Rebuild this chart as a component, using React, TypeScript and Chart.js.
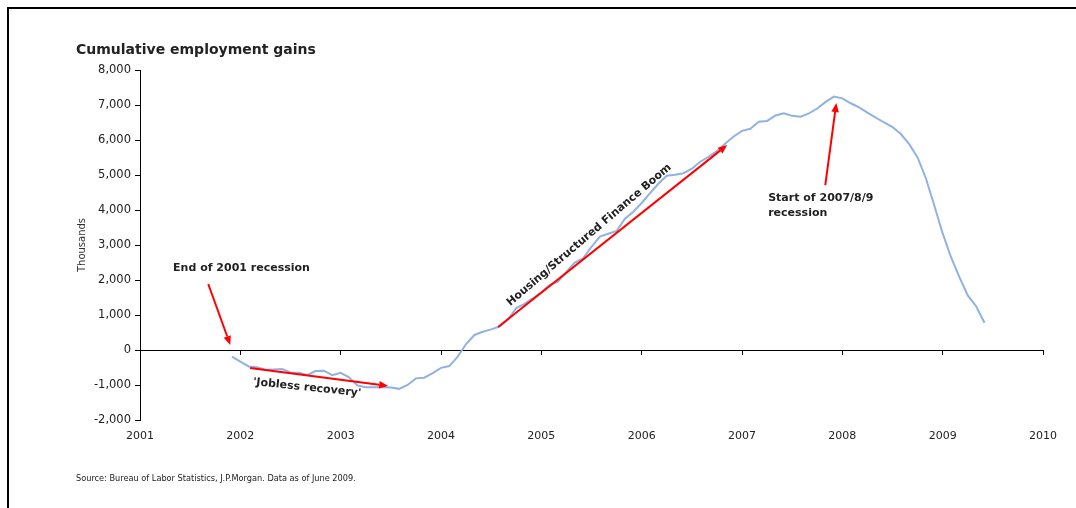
import React, { useEffect, useRef } from "react";
import { Chart, registerables } from "chart.js";

Chart.register(...registerables);

// ---- Data ----
const START_YEAR = 2001;
const START_MONTH = 12; // first observation: Dec 2001
// Cumulative employment gains (thousands), monthly Dec 2001 .. Jun 2009
const employmentGains = [
  -190, -330, -470, -490, -565, -555, -545, -640, -650, -710, -600, -590,
  -720, -650, -780, -1010, -1065, -1065, -1067, -1070, -1110, -1000, -810, -790,
  -660, -510, -460, -190, 170, 430, 520, 590, 670, 870, 1200, 1320,
  1480, 1650, 1860, 1950, 2230, 2500, 2620, 2950, 3240, 3320, 3400, 3750,
  3950, 4200, 4480, 4750, 4980, 5010, 5050, 5180, 5380, 5520, 5680, 5900,
  6100, 6260, 6320, 6520, 6545, 6700, 6760, 6690, 6665, 6760, 6900, 7090,
  7240, 7190, 7050, 6930, 6780, 6640, 6500, 6370, 6170, 5880, 5500, 4900,
  4130, 3330, 2650, 2080, 1560, 1250, 780,
];
const yearTicks = [2001, 2002, 2003, 2004, 2005, 2006, 2007, 2008, 2009, 2010];
const valueTicks = [-2000, -1000, 0, 1000, 2000, 3000, 4000, 5000, 6000, 7000, 8000];

// Annotation arrows in data space: [year, thousands]
const arrowFrom = [
  [2001.68, 1886],
  [2002.097, -514],
  [2004.569, 657],
  [2007.83, 4714],
];
const arrowTo = [
  [2001.9, 143],
  [2003.473, -1029],
  [2006.852, 5857],
  [2007.94, 7057],
];
const noteTexts = [
  "End of 2001 recession",
  "'Jobless recovery'",
  "Housing/Structured Finance Boom",
  "Start of 2007/8/9",
  "recession",
];
const noteAnchors = [
  [2001.33, 2343],
  [2002.665, -1080],
  [2005.477, 3286],
  [2007.261, 4343],
  [2007.261, 3914],
];

const TITLE = "Cumulative employment gains";
const SOURCE = "Source: Bureau of Labor Statistics, J.P.Morgan. Data as of June 2009.";
const FONT = "'DejaVu Sans', 'Liberation Sans', Arial, sans-serif";

function drawArrow(ctx: CanvasRenderingContext2D, x1: number, y1: number, x2: number, y2: number) {
  const ang = Math.atan2(y2 - y1, x2 - x1);
  const headLen = 9;
  const headW = 3.8;
  const bx = x2 - headLen * Math.cos(ang);
  const by = y2 - headLen * Math.sin(ang);
  ctx.save();
  ctx.strokeStyle = "#ff0000";
  ctx.fillStyle = "#ff0000";
  ctx.lineWidth = 2;
  ctx.beginPath();
  ctx.moveTo(x1, y1);
  ctx.lineTo(bx, by);
  ctx.stroke();
  ctx.beginPath();
  ctx.moveTo(x2, y2);
  ctx.lineTo(bx + headW * Math.sin(ang), by - headW * Math.cos(ang));
  ctx.lineTo(bx - headW * Math.sin(ang), by + headW * Math.cos(ang));
  ctx.closePath();
  ctx.fill();
  ctx.restore();
}

const annotationPlugin = {
  id: "annotations",
  afterDraw(chart: any) {
    const ctx: CanvasRenderingContext2D = chart.ctx;
    const xs = chart.scales.x;
    const ys = chart.scales.y;
    const px = (v: number) => xs.getPixelForValue(v);
    const py = (v: number) => ys.getPixelForValue(v);

    // arrows
    for (let i = 0; i < arrowFrom.length; i++) {
      drawArrow(ctx, px(arrowFrom[i][0]), py(arrowFrom[i][1]), px(arrowTo[i][0]), py(arrowTo[i][1]));
    }

    ctx.save();
    ctx.fillStyle = "#222";
    ctx.font = `bold 11px ${FONT}`;
    ctx.textBaseline = "middle";
    // End of 2001 recession
    ctx.textAlign = "left";
    ctx.fillText(noteTexts[0], px(noteAnchors[0][0]), py(noteAnchors[0][1]));
    // Jobless recovery (rotated)
    ctx.save();
    ctx.translate(px(noteAnchors[1][0]), py(noteAnchors[1][1]));
    ctx.rotate((6 * Math.PI) / 180);
    ctx.textAlign = "center";
    ctx.fillText(noteTexts[1], 0, 0);
    ctx.restore();
    // Housing boom (rotated)
    ctx.save();
    ctx.translate(px(noteAnchors[2][0]), py(noteAnchors[2][1]));
    ctx.rotate((-40.5 * Math.PI) / 180);
    ctx.textAlign = "center";
    ctx.fillText(noteTexts[2], 0, 0);
    ctx.restore();
    // Start of recession
    ctx.textAlign = "left";
    ctx.fillText(noteTexts[3], px(noteAnchors[3][0]), py(noteAnchors[3][1]));
    ctx.fillText(noteTexts[4], px(noteAnchors[4][0]), py(noteAnchors[4][1]));

    // chart title and source
    ctx.font = `bold 14px ${FONT}`;
    ctx.textBaseline = "alphabetic";
    ctx.fillText(TITLE, 76, 54);
    ctx.font = `8.2px ${FONT}`;
    ctx.textBaseline = "middle";
    ctx.fillText(SOURCE, 76, 479);
    ctx.restore();
  },
};

export default function App() {
  const canvasRef = useRef<HTMLCanvasElement | null>(null);

  useEffect(() => {
    if (!canvasRef.current) return;
    const points = employmentGains.map((v, i) => ({
      x: START_YEAR + (START_MONTH - 1 + i) / 12,
      y: v,
    }));
    const chart = new Chart(canvasRef.current, {
      type: "line",
      data: {
        datasets: [
          {
            data: points,
            xAxisID: "x",
            yAxisID: "y",
            borderColor: "#90b2e2",
            borderWidth: 2,
            pointRadius: 0,
            tension: 0,
            fill: false,
          },
        ],
      },
      options: {
        responsive: false,
        animation: false,
        layout: { padding: { left: 70, right: 33, top: 70, bottom: 0 } },
        plugins: {
          legend: { display: false },
          tooltip: { enabled: false },
          title: { display: false },
        },
        scales: {
          x: {
            type: "linear",
            position: "bottom",
            min: yearTicks[0],
            max: yearTicks[yearTicks.length - 1],
            afterFit: (s: any) => {
              s.height = 88;
            },
            afterBuildTicks: (s: any) => {
              s.ticks = yearTicks.map((v) => ({ value: v }));
            },
            border: { display: false },
            grid: { display: false, drawTicks: false },
            ticks: {
              padding: 10,
              color: "#222",
              font: { family: FONT, size: 11 },
              callback: (v: any) => String(v),
              autoSkip: false,
              maxRotation: 0,
            },
          },
          x0: {
            type: "linear",
            position: { y: 0 },
            min: yearTicks[0],
            max: yearTicks[yearTicks.length - 1],
            afterBuildTicks: (s: any) => {
              s.ticks = yearTicks.map((v) => ({ value: v }));
            },
            ticks: { display: false },
            grid: { drawOnChartArea: false, drawTicks: true, tickLength: 4, color: "#000" },
            border: { color: "#000", width: 1 },
          },
          y: {
            type: "linear",
            min: valueTicks[0],
            max: valueTicks[valueTicks.length - 1],
            afterFit: (s: any) => {
              s.width = 70;
            },
            afterBuildTicks: (s: any) => {
              s.ticks = valueTicks.map((v) => ({ value: v }));
            },
            border: { color: "#000", width: 1 },
            grid: { drawOnChartArea: false, drawTicks: true, tickLength: 5, color: "#000" },
            ticks: {
              padding: 4,
              color: "#222",
              font: { family: FONT, size: 11.5 },
              callback: (v: any) => Number(v).toLocaleString("en-US"),
            },
            title: {
              display: true,
              text: "Thousands",
              color: "#333",
              font: { family: FONT, size: 10 },
              padding: { top: 6, bottom: 0 },
            },
          },
        },
      },
      plugins: [annotationPlugin],
    });
    return () => chart.destroy();
  }, []);

  return (
    <div style={{ position: "absolute", left: 0, top: 0, width: 1076, height: 508, background: "#fff", overflow: "hidden" }}>
      <canvas ref={canvasRef} width={1076} height={508} style={{ position: "absolute", left: 0, top: 0 }} />
      <div
        style={{
          position: "absolute",
          left: 7,
          top: 7,
          width: 1076,
          height: 508,
          borderTop: "2px solid #000",
          borderLeft: "2px solid #000",
          pointerEvents: "none",
        }}
      />
    </div>
  );
}
